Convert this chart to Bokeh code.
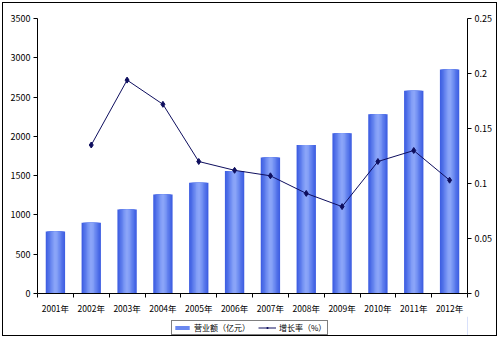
from bokeh.plotting import figure
from bokeh.layouts import column
from bokeh.models import (Range1d, LinearAxis, FixedTicker, NumeralTickFormatter,
                          Legend, LegendItem, ColumnDataSource)
from bokeh.embed import file_html
from bokeh.resources import INLINE

years = ["2001年", "2002年", "2003年", "2004年", "2005年", "2006年",
         "2007年", "2008年", "2009年", "2010年", "2011年", "2012年"]
revenue = [790, 900, 1070, 1260, 1410, 1560, 1730, 1890, 2040, 2280, 2580, 2850]
growth_years = years[1:]
growth = [0.135, 0.194, 0.172, 0.120, 0.112, 0.107, 0.091, 0.079, 0.120, 0.130, 0.103]
left_ticks = [0, 500, 1000, 1500, 2000, 2500, 3000, 3500]
right_ticks = [0, 0.05, 0.1, 0.15, 0.2, 0.25]
series_names = ["营业额（亿元）", "增长率（%）"]

pos = list(range(1, len(years) + 1))
src = ColumnDataSource(dict(x=pos, top=revenue))
gsrc = ColumnDataSource(dict(x=[years.index(y) + 1 for y in growth_years], y=growth))

FONT = "Noto Sans CJK SC"
W = 493

p = figure(width=W, height=313, x_range=Range1d(0.5, 12.5), y_range=Range1d(0, 3500),
           output_backend="svg", toolbar_location=None,
           min_border_left=34, min_border_right=29, min_border_top=15, min_border_bottom=22,
           x_axis_type=None, y_axis_type=None)
p.outline_line_color = None
p.xgrid.visible = False
p.ygrid.visible = False
p.background_fill_color = "white"
p.border_fill_color = "white"

# gradient bars as nested bars (widest darkest, narrowest lightest)
strip_colors = ["#4060e2", "#4a6ae6", "#5676ea", "#6482ee", "#7290f2", "#809cf6", "#8aa4f8"]
bw = 0.54
n = len(strip_colors)
for i, c in enumerate(strip_colors):
    w = bw * (1 - i / n)
    p.vbar(x="x", top="top", bottom=0, width=w, source=src, fill_color=c, line_color=None)

p.extra_y_ranges = {"rate": Range1d(0, 0.25)}
line_color = "#0e0e5e"
p.line(x="x", y="y", source=gsrc, y_range_name="rate", line_color=line_color, line_width=1)
p.scatter(x="x", y="y", source=gsrc, y_range_name="rate", marker="diamond", size=6,
          fill_color=line_color, line_color=line_color)

# axes
xa = LinearAxis(ticker=FixedTicker(ticks=pos, minor_ticks=[x - 0.5 for x in pos] + [12.5]),
                major_label_overrides={x: years[x - 1] for x in pos})
xa.major_tick_out = 0
xa.major_tick_in = 0
xa.minor_tick_out = 4
xa.minor_tick_in = 0
xa.minor_tick_line_color = "black"
xa.axis_line_color = "black"
xa.major_label_text_font = FONT
xa.major_label_text_font_size = "8.5px"
xa.major_label_text_color = "black"
xa.major_label_standoff = 4
p.add_layout(xa, "below")

ya = LinearAxis(ticker=FixedTicker(ticks=left_ticks))
ya.major_tick_out = 4
ya.major_tick_in = 0
ya.minor_tick_out = 0
ya.axis_line_color = "black"
ya.major_label_text_font = FONT
ya.major_label_text_font_size = "9px"
ya.major_label_text_color = "black"
ya.major_label_standoff = 3
p.add_layout(ya, "left")

ra = LinearAxis(y_range_name="rate", ticker=FixedTicker(ticks=right_ticks),
                formatter=NumeralTickFormatter(format="0.[00]"))
ra.major_tick_out = 4
ra.major_tick_in = 0
ra.minor_tick_out = 0
ra.axis_line_color = "black"
ra.major_label_text_font = FONT
ra.major_label_text_font_size = "9px"
ra.major_label_text_color = "black"
ra.major_label_standoff = 3
p.add_layout(ra, "right")

# legend strip as its own small figure (its sample glyphs sit outside the visible range)
lg = figure(width=W, height=19, x_range=Range1d(0, 1), y_range=Range1d(0, 1),
            output_backend="svg", toolbar_location=None,
            min_border_left=0, min_border_right=0, min_border_top=0, min_border_bottom=0,
            x_axis_type=None, y_axis_type=None)
lg.outline_line_color = None
lg.xgrid.visible = False
lg.ygrid.visible = False
lg.border_fill_color = "white"
off_bar = ColumnDataSource(dict(x=[5], top=[5]))
off_line = ColumnDataSource(dict(x=[5, 6], y=[5, 5]))
rb = lg.vbar(x="x", top="top", width=1, source=off_bar, fill_color="#6a88f0", line_color=None)
rl = lg.line(x="x", y="y", source=off_line, line_color=line_color, line_width=1)
rs = lg.scatter(x="x", y="y", source=off_line, marker="diamond", size=6,
                fill_color=line_color, line_color=line_color)
legend = Legend(items=[LegendItem(label=series_names[0], renderers=[rb]),
                       LegendItem(label=series_names[1], renderers=[rl, rs])],
                orientation="horizontal", location=(134, 0))
legend.border_line_color = "black"
legend.border_line_width = 1
legend.background_fill_color = "white"
legend.background_fill_alpha = 1
legend.label_text_font = FONT
legend.label_text_font_size = "8px"
legend.label_text_color = "black"
legend.label_height = 8
legend.glyph_width = 18
legend.glyph_height = 5
legend.padding = 1
legend.spacing = 8
legend.label_standoff = 3
legend.margin = 0
lg.add_layout(legend, "center")

layout = column(p, lg, spacing=0)
layout.styles = {"border": "1px solid black", "margin": "2px", "background-color": "white"}

open("out.html", "w").write(file_html(layout, INLINE))
